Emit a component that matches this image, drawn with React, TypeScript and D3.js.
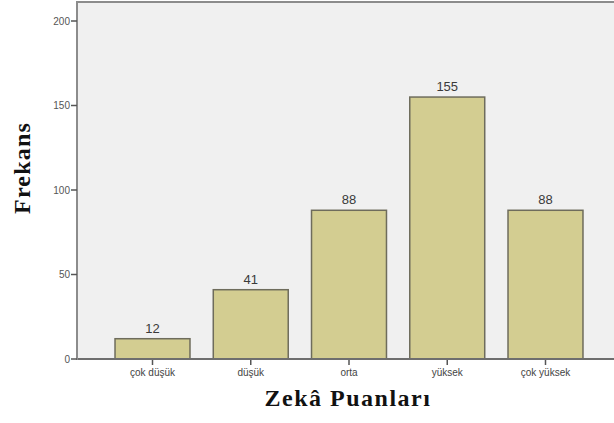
import React from "react";
import * as d3 from "d3";

const categories = ["çok düşük", "düşük", "orta", "yüksek", "çok yüksek"];
const frequencies = [12, 41, 88, 155, 88];
const yTicks = [0, 50, 100, 150, 200];

export default function App() {
  const W = 614, H = 423;
  const left = 77, right = 621, top = 2, bottom = 359;
  const x = d3.scaleBand<string>().domain(categories).range([left, right]).paddingInner(0.237).paddingOuter(0.387);
  const y = d3.scaleLinear().domain([0, 200]).range([bottom, 21]);
  const frame = "#8c8c8c";
  return (
    <svg width={W} height={H} style={{ position: "fixed", left: 0, top: 0, background: "#fff" }}>
      <rect x={left} y={top} width={right - left} height={bottom - top} fill="#f0f0f0" />
      <line x1={left} x2={right} y1={top} y2={top} stroke={frame} strokeWidth={2} />
      {frequencies.map((v, i) => {
        const c = categories[i];
        const bx = x(c)!;
        return (
          <g key={c}>
            <rect x={bx} y={y(v)} width={x.bandwidth()} height={bottom - y(v)} fill="#d3cd91" stroke="#6e6c5c" strokeWidth={1.5} />
            <text x={bx + x.bandwidth() / 2} y={y(v) - 6} textAnchor="middle" fontFamily="Arial, 'Liberation Sans', sans-serif" fontSize={13} fill="#3a3a3a">{v}</text>
            <line x1={bx + x.bandwidth() / 2} x2={bx + x.bandwidth() / 2} y1={bottom} y2={bottom + 6} stroke="#555" strokeWidth={1.5} />
            <text x={bx + x.bandwidth() / 2} y={bottom + 17} textAnchor="middle" fontFamily="Arial, 'Liberation Sans', sans-serif" fontSize={10} fill="#444">{c}</text>
          </g>
        );
      })}
      <line x1={left} x2={right} y1={bottom} y2={bottom} stroke="#6e6e6e" strokeWidth={2} />
      <line x1={left} x2={left} y1={top - 1} y2={bottom + 1} stroke={frame} strokeWidth={2} />
      {yTicks.map((t) => (
        <g key={t}>
          <line x1={left - 6} x2={left} y1={y(t)} y2={y(t)} stroke="#555" strokeWidth={1.5} />
          <text x={left - 7} y={y(t) + 3.5} textAnchor="end" fontFamily="Arial, 'Liberation Sans', sans-serif" fontSize={10} fill="#555">{t}</text>
        </g>
      ))}
      <text transform={`translate(30, 168) rotate(-90)`} textAnchor="middle" fontFamily="'Liberation Serif', 'Times New Roman', serif" fontWeight="bold" fontSize={24} letterSpacing={1.2} fill="#111">Frekans</text>
      <text x={348} y={406} textAnchor="middle" fontFamily="'Liberation Serif', 'Times New Roman', serif" fontWeight="bold" fontSize={24} letterSpacing={1.5} fill="#111">Zekâ Puanları</text>
    </svg>
  );
}
